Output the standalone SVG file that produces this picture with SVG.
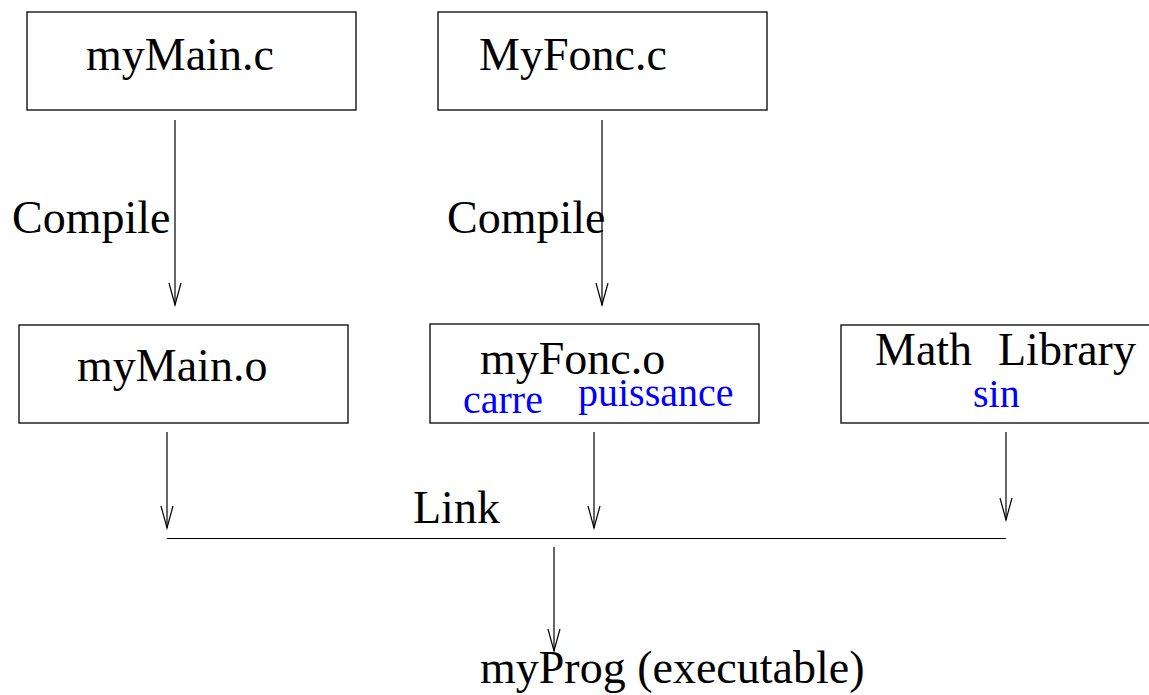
<svg xmlns="http://www.w3.org/2000/svg" width="1149" height="695" viewBox="0 0 1149 695">
<defs>
<style>
.box{fill:#fff;stroke:#000;stroke-width:1.3}
.t{font-family:"Liberation Serif","Times New Roman",serif;font-size:46px;fill:#000}
.b{font-family:"Liberation Serif","Times New Roman",serif;font-size:40px;fill:#0000ff}
.ln{stroke:#000;stroke-width:1.2;fill:none}
.ar{stroke:#000;stroke-width:1.2;fill:none;marker-end:url(#v)}
</style>
<marker id="v" markerUnits="userSpaceOnUse" viewBox="-25 -10 30 20" markerWidth="30" markerHeight="20" refX="0" refY="0" orient="auto" overflow="visible">
<path d="M-22,-6 L0,0 L-22,6" fill="none" stroke="#000" stroke-width="1.2"/>
</marker>
</defs>
<rect width="1149" height="695" fill="#fff"/>
<g id="myMain_c"><rect class="box" x="27" y="12" width="329" height="98"/><text class="t" x="86" y="70">myMain.c</text></g>
<g id="MyFonc_c"><rect class="box" x="438" y="12" width="329" height="98"/><text class="t" x="479" y="70">MyFonc.c</text></g>
<g id="myMain_o"><rect class="box" x="19" y="325" width="329" height="98"/><text class="t" x="77" y="381">myMain.o</text></g>
<g id="myFonc_o"><rect class="box" x="430" y="324" width="329" height="99"/><text class="t" x="480" y="374">myFonc.o</text><text class="b" x="463" y="413">carre</text><text class="b" x="578" y="406">puissance</text></g>
<g id="math_lib"><rect class="box" x="841" y="325" width="320" height="98"/><text class="t" y="365"><tspan x="875">Math</tspan><tspan x="998">Library</tspan></text><text class="b" x="973" y="407">sin</text></g>
<g id="myProg"><text class="t" x="480" y="683">myProg (executable)</text></g>
<g id="connectors">
<line class="ar" x1="175" y1="120" x2="175" y2="305"/>
<line class="ar" x1="602" y1="120" x2="602" y2="305"/>
<text class="t" x="12" y="233">Compile</text>
<text class="t" x="447" y="233">Compile</text>
<line class="ar" x1="167" y1="432" x2="167" y2="528"/>
<line class="ar" x1="594" y1="432" x2="594" y2="528"/>
<line class="ar" x1="1006" y1="432" x2="1006" y2="520"/>
<line class="ln" x1="167" y1="538.5" x2="1006" y2="538.5"/>
<text class="t" x="413" y="523">Link</text>
<line class="ar" x1="554" y1="547" x2="554" y2="651"/>
</g>
</svg>
